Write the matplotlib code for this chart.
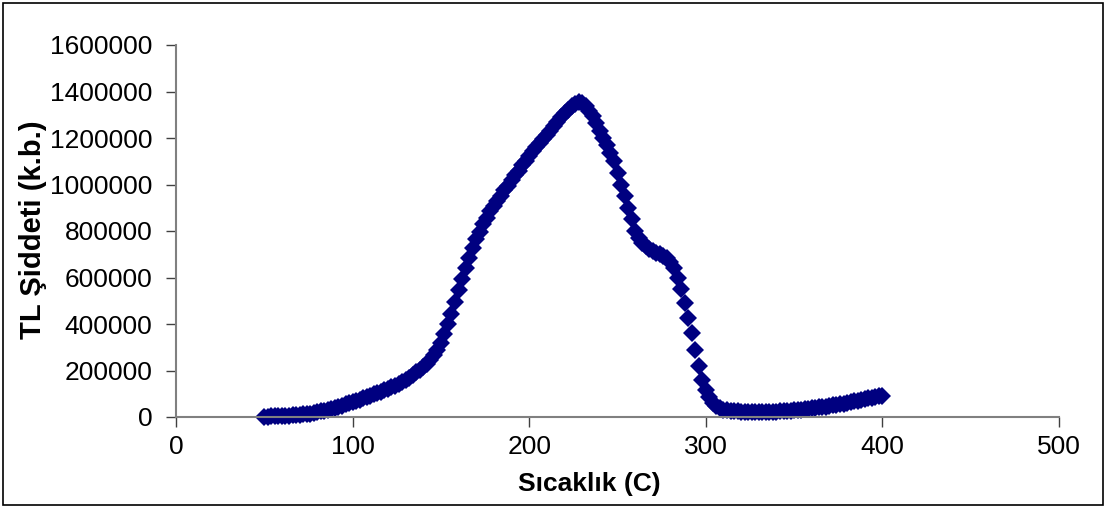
import matplotlib
matplotlib.use("Agg")
import matplotlib.pyplot as plt
from matplotlib.patches import Rectangle

# sicaklik (C), 2 derece adimla
sicaklik = list(range(50, 401, 2))

# TL siddeti (bin k.b.)
tl_bin = [
    2, 2, 3, 3, 4, 4, 5, 6, 7, 8,                       # 50-68
    9, 11, 13, 15, 18, 21, 24, 27, 31, 35,              # 70-88
    39, 44, 49, 55, 60, 65, 70, 75, 80, 86,             # 90-108
    92, 97, 103, 109, 115, 122, 128, 135, 142, 150,     # 110-128
    158, 168, 180, 192, 204, 216, 230, 247, 265, 287,   # 130-148
    318, 355, 400, 445, 495, 545, 595, 640, 685, 725,   # 150-168
    765, 795, 830, 857, 885, 908, 930, 950, 975, 995,   # 170-188
    1018, 1040, 1060, 1082, 1102, 1122, 1143, 1160, 1178, 1195,  # 190-208
    1212, 1228, 1250, 1270, 1290, 1308, 1322, 1336, 1348, 1355,  # 210-228
    1350, 1338, 1318, 1295, 1265, 1230, 1200, 1168, 1135, 1100,  # 230-248
    1050, 1000, 950, 900, 850, 800, 770, 750, 735, 722,          # 250-268
    714, 707, 700, 692, 683, 665, 640, 600, 550, 490,            # 270-288
    425, 360, 290, 220, 160, 115, 85, 62, 48, 38,                # 290-308
    32, 28, 26, 25, 24, 23, 22, 22, 22, 22,                      # 310-328
    22, 22, 22, 22, 23, 23, 24, 25, 26, 27,                      # 330-348
    28, 30, 31, 33, 35, 37, 39, 41, 43, 45,                      # 350-368
    48, 50, 53, 55, 58, 61, 64, 67, 70, 73,                      # 370-388
    77, 80, 83, 86, 89, 92,                                      # 390-400
]
tl = [v * 1000 for v in tl_bin]

x_ticks = [0, 100, 200, 300, 400, 500]
y_ticks = [0, 200000, 400000, 600000, 800000, 1000000, 1200000, 1400000, 1600000]

plt.rcParams["font.family"] = ["Liberation Sans", "DejaVu Sans"]

fig = plt.figure(figsize=(11.07, 5.08), dpi=100)
ax = fig.add_axes([176 / 1107, 91 / 508, (1059 - 176) / 1107, (417 - 45) / 508])

ax.plot(sicaklik, tl, linestyle="none", marker="D", markersize=9.5,
        color="#000080", markeredgewidth=0, clip_on=False)

ax.set_xlim(0, 500)
ax.set_ylim(0, 1600000)
ax.set_xticks(x_ticks)
ax.set_yticks(y_ticks)
ax.set_xticklabels([str(t) for t in x_ticks])
ax.set_yticklabels([str(t) for t in y_ticks])
ax.tick_params(axis="both", direction="out", length=7, width=1, color="#404040",
               labelsize=19)
ax.tick_params(axis="y", pad=10)
ax.tick_params(axis="x", pad=6)

for s in ["top", "right"]:
    ax.spines[s].set_visible(False)
for s in ["left", "bottom"]:
    ax.spines[s].set_color("#808080")
    ax.spines[s].set_linewidth(1.5)

fig.text(589 / 1107, 1 - 484 / 508, "Sıcaklık (C)", fontsize=19,
         fontweight="bold", ha="center", va="center")
fig.text(33 / 1107, 1 - 230 / 508, "TL Şiddeti (k.b.)", fontsize=21,
         fontweight="bold", ha="center", va="center", rotation=90)

fig.patches.append(Rectangle((3 / 1107, 3 / 508), 1100 / 1107, 502 / 508,
                             transform=fig.transFigure, fill=False,
                             edgecolor="black", linewidth=1.2))

fig.savefig("out.png", dpi=100)
